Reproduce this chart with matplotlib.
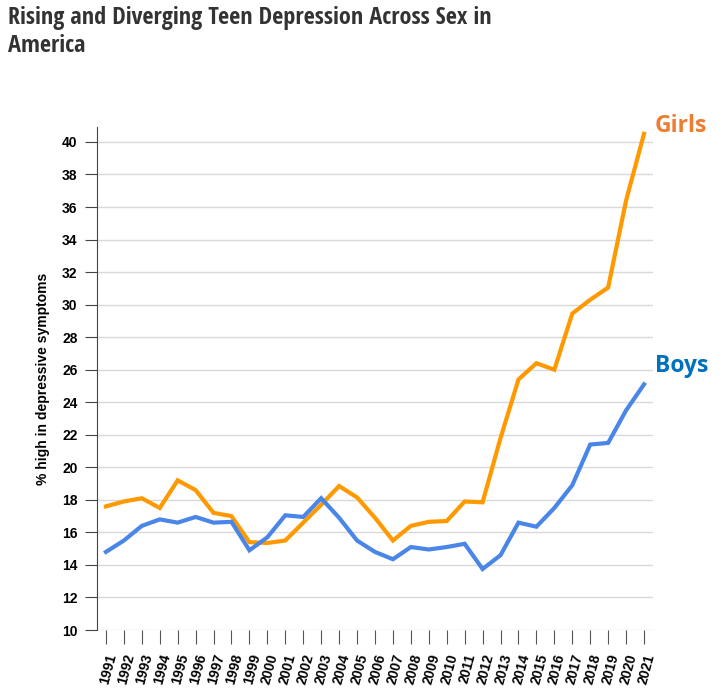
import matplotlib.pyplot as plt
from matplotlib import font_manager

years = list(range(1991, 2022))
girls = [17.6, 17.9, 18.1, 17.5, 19.2, 18.6, 17.2, 17.0, 15.4, 15.35, 15.5, 16.6, 17.7, 18.85,
         18.15, 16.9, 15.5, 16.4, 16.65, 16.7, 17.9, 17.85, 21.8, 25.4, 26.4, 26.0, 29.45, 30.3,
         31.05, 36.4, 40.5]
boys = [14.8, 15.5, 16.4, 16.8, 16.6, 16.95, 16.6, 16.65, 14.9, 15.7, 17.05, 16.95, 18.1, 16.9,
        15.5, 14.8, 14.35, 15.1, 14.95, 15.1, 15.3, 13.75, 14.6, 16.6, 16.35, 17.5, 18.9, 21.4,
        21.5, 23.5, 25.1]
y_ticks = list(range(10, 41, 2))

# narrow bold font for the title, if there is one
names = {f.name for f in font_manager.fontManager.ttflist}
title_font = 'Roboto'
for cand in ['Open Sans Condensed', 'Roboto Condensed', 'Fira Sans Condensed',
             'Archivo Narrow', 'PT Sans Narrow', 'Liberation Sans Narrow']:
    if cand in names:
        title_font = cand
        break

fig = plt.figure(figsize=(7.22, 6.95), dpi=100)
ax = fig.add_axes([0.1343, 0.0935, 0.9044 - 0.1343, 0.8173 - 0.0935])

ax.plot(years, girls, color='#FF9900', lw=3, solid_joinstyle='miter', zorder=3)
ax.plot(years, boys, color='#4A86E8', lw=3, solid_joinstyle='miter', zorder=3)

ax.set_xlim(1990.5, 2021.5)
ax.set_ylim(10, 40.92)
ax.set_yticks(y_ticks)
ax.set_xticks(years)
ax.set_xticklabels([str(y) for y in years], rotation=75, ha='right', va='top',
                   rotation_mode='anchor', fontsize=10, fontweight='bold',
                   family='Liberation Sans')
ax.set_yticklabels([str(v) for v in y_ticks], fontsize=10, fontweight='bold',
                   family='Liberation Sans')
ax.grid(axis='y', color='#d9d9d9', lw=1)
ax.set_axisbelow(True)
for s in ['top', 'right', 'bottom']:
    ax.spines[s].set_visible(False)
ax.spines['left'].set_color('#444444')
ax.tick_params(axis='y', length=9, color='#444444', pad=5)
ax.tick_params(axis='x', length=10, color='#555555', pad=6)

ax.set_ylabel('% high in depressive symptoms', fontsize=10, fontweight='bold',
              family='Liberation Sans', labelpad=9)

ax.text(2021.6, 41.0, 'Girls', color='#ED7D31', fontsize=16.5, fontweight='bold',
        family='Open Sans', va='center', ha='left', clip_on=False)
ax.text(2021.6, 26.2, 'Boys', color='#0070C0', fontsize=16.5, fontweight='bold',
        family='Open Sans', va='center', ha='left', clip_on=False)

fig.text(0.011, 0.992, 'Rising and Diverging Teen Depression Across Sex in\nAmerica',
         fontsize=17.5, fontweight=900, color='#333333', family=[title_font, 'DejaVu Sans'],
         va='top', ha='left', linespacing=1.22)

fig.savefig('out.png', dpi=100)
